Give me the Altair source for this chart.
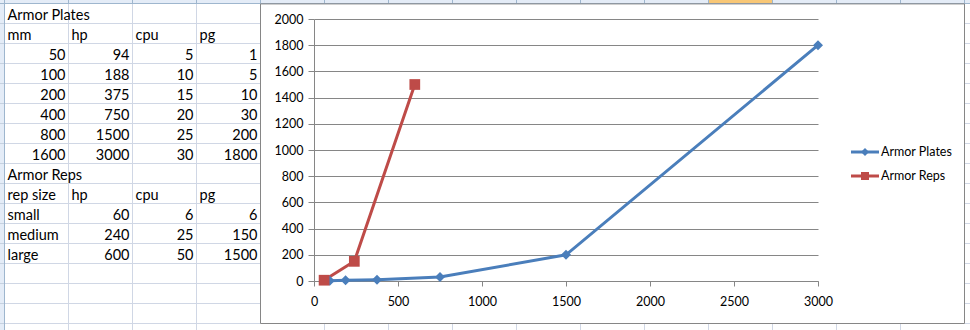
import altair as alt
import pandas as pd

# ---------------- data ----------------
plate_mm = [50, 100, 200, 400, 800, 1600]
plate_hp = [94, 188, 375, 750, 1500, 3000]
plate_cpu = [5, 10, 15, 20, 25, 30]
plate_pg = [1, 5, 10, 30, 200, 1800]

rep_size = ["small", "medium", "large"]
rep_hp = [60, 240, 600]
rep_cpu = [6, 25, 50]
rep_pg = [6, 150, 1500]

series_names = ["Armor Plates", "Armor Reps"]
plate_header = ["mm", "hp", "cpu", "pg"]
rep_header = ["rep size", "hp", "cpu", "pg"]
x_ticks = [0, 500, 1000, 1500, 2000, 2500, 3000]
y_ticks = [0, 200, 400, 600, 800, 1000, 1200, 1400, 1600, 1800, 2000]

# ---------------- layout / style ----------------
PL, PT, PR, PB = 314, 19, 152, 49
W, H = 504, 262
FONT = "Lato"
AXIS_GRAY = "#868686"
GRID = "#d0d7e5"
HDR_FILL = "#e4ecf7"
HDR_LINE = "#9eb6ce"
SEL_FILL = "#f8c776"
BLUE, RED = "#4a7ebb", "#be4b48"

# ---------------- chart data ----------------
rows = []
for h, p in zip(plate_hp, plate_pg):
    rows.append({"series": series_names[0], "hp": h, "pg": p})
for h, p in zip(rep_hp, rep_pg):
    rows.append({"series": series_names[1], "hp": h, "pg": p})
chart_df = pd.DataFrame(rows)

# ---------------- table cells ----------------
cells_left, cells_right = [], []
cells_left.append({"r": 0, "c": 0, "t": "Armor Plates"})
for c, t in enumerate(plate_header):
    cells_left.append({"r": 1, "c": c, "t": t})
for i, vals in enumerate(zip(plate_mm, plate_hp, plate_cpu, plate_pg)):
    for c, v in enumerate(vals):
        cells_right.append({"r": 2 + i, "c": c + 1, "t": str(v)})
cells_left.append({"r": 8, "c": 0, "t": "Armor Reps"})
for c, t in enumerate(rep_header):
    cells_left.append({"r": 9, "c": c, "t": t})
for i, (s, h, cp, p) in enumerate(zip(rep_size, rep_hp, rep_cpu, rep_pg)):
    cells_left.append({"r": 10 + i, "c": 0, "t": s})
    for c, v in enumerate((h, cp, p)):
        cells_right.append({"r": 10 + i, "c": c + 2, "t": str(v)})
left_df = pd.DataFrame(cells_left)
right_df = pd.DataFrame(cells_right)
left_df["rb"] = left_df["r"] + 1
right_df["rb"] = right_df["r"] + 1

# table (sheet) scales: column index / row index -> pixels
TXS = alt.Scale(domain=[0, 15], range=[4.5 - PL, 964.5 - PL], nice=False, zero=False)
TYS = alt.Scale(domain=[0, 16], range=[3.5 - PT, 323.5 - PT], nice=False, zero=False)


def TX(f):
    return alt.X(f, type="quantitative", scale=TXS, axis=None)


def TY(f):
    return alt.Y(f, type="quantitative", scale=TYS, axis=None)


txt_left = alt.Chart(left_df).mark_text(
    align="left", baseline="alphabetic", dx=3, dy=-4, font=FONT, fontSize=14.5, color="black"
).encode(x=TX("c"), y=TY("rb"), text="t:N")
txt_right = alt.Chart(right_df).mark_text(
    align="right", baseline="alphabetic", dx=-3, dy=-4, font=FONT, fontSize=14.5, color="black"
).encode(x=TX("c"), y=TY("rb"), text="t:N")

rows_idx = list(range(17))
hgrid_left = pd.DataFrame({"r": rows_idx, "c1": 0, "c2": 4})
hgrid_right = pd.DataFrame({"r": rows_idx, "c1": 15, "c2": 15.3})
hgrid_hdr = pd.DataFrame({"r": rows_idx, "c1": -0.1, "c2": 0})
vgrid_left = pd.DataFrame({"c": [1, 2, 3], "r1": -0.2, "r2": 16.5})
vgrid_top = pd.DataFrame({"c": list(range(1, 16)), "r1": -0.2, "r2": 0})
vgrid_bottom = pd.DataFrame({"c": list(range(5, 15)), "r1": 16, "r2": 16.5})
hdr_top = pd.DataFrame({"c1": [-0.1], "c2": [15.3], "r1": [-0.2], "r2": [0]})
hdr_sel = pd.DataFrame({"c1": [11], "c2": [12], "r1": [-0.2], "r2": [0]})
hdr_left = pd.DataFrame({"c1": [-0.1], "c2": [0], "r1": [0], "r2": [16.5]})
box = pd.DataFrame({"c1": [4], "c2": [15], "r1": [0.02], "r2": [16]})
hdr_line_top = pd.DataFrame({"r": [0], "c1": [-0.1], "c2": [15.3]})
hdr_line_left = pd.DataFrame({"c": [0], "r1": [-0.2], "r2": [16.5]})


def hrule(df, color):
    return alt.Chart(df).mark_rule(color=color, strokeWidth=1).encode(
        x=TX("c1"), x2="c2", y=TY("r"))


def vrule(df, color):
    return alt.Chart(df).mark_rule(color=color, strokeWidth=1).encode(
        x=TX("c"), y=TY("r1"), y2="r2")


def rect(df, fill, stroke=None):
    kw = dict(fill=fill)
    if stroke:
        kw["stroke"] = stroke
        kw["strokeWidth"] = 1
    return alt.Chart(df).mark_rect(**kw).encode(
        x=TX("c1"), x2="c2", y=TY("r1"), y2="r2")


decor = alt.layer(
    rect(hdr_top, HDR_FILL),
    rect(hdr_sel, SEL_FILL),
    rect(hdr_left, HDR_FILL),
    hrule(hgrid_left, GRID),
    hrule(hgrid_right, GRID),
    hrule(hgrid_hdr, "#c5d1e0"),
    vrule(vgrid_left, GRID),
    vrule(vgrid_top, HDR_LINE),
    vrule(vgrid_bottom, GRID),
    hrule(hdr_line_top, HDR_LINE),
    vrule(hdr_line_left, HDR_LINE),
    rect(box, "transparent", AXIS_GRAY),
    txt_left,
    txt_right,
)

# ---------------- the XY chart ----------------
color_scale = alt.Scale(domain=series_names, range=[BLUE, RED])
shape_scale = alt.Scale(domain=series_names, range=["diamond", "square"])
size_scale = alt.Scale(domain=series_names, range=[100, 115])

x_axis = alt.Axis(
    orient="bottom", values=x_ticks, tickCount=7, grid=False, title=None, format="d",
    domainColor=AXIS_GRAY, tickColor=AXIS_GRAY, tickSize=5, labelPadding=9,
    labelFont=FONT, labelFontSize=12.5, labelColor="black", labelFlush=False,
    labelOverlap=False,
)
y_axis = alt.Axis(
    orient="left", values=y_ticks, tickCount=11, grid=True, gridColor=AXIS_GRAY,
    title=None, format="d",
    domainColor=AXIS_GRAY, tickColor=AXIS_GRAY, tickSize=6, labelPadding=5,
    labelFont=FONT, labelFontSize=12.5, labelColor="black", labelOverlap=False,
    labelFlush=False,
)
xenc = alt.X("hp:Q", scale=alt.Scale(domain=[0, 3000], nice=False, zero=False), axis=x_axis)
yenc = alt.Y("pg:Q", scale=alt.Scale(domain=[0, 2000], nice=False, zero=False), axis=y_axis)
color_enc = alt.Color("series:N", scale=color_scale, legend=None)
shape_enc = alt.Shape("series:N", scale=shape_scale, legend=None)

base = alt.Chart(chart_df)
lines = base.mark_line(strokeWidth=3).encode(x=xenc, y=yenc, color=color_enc)
points = base.mark_point(filled=True, opacity=1).encode(
    x=xenc, y=yenc, color=color_enc, shape=shape_enc,
    size=alt.Size("series:N", scale=size_scale, legend=None),
)
xy = alt.layer(lines, points)

# ---------------- legend ----------------
leg_df = pd.DataFrame({"series": series_names, "i": [0, 1]})
LY = alt.Y("i:Q", scale=alt.Scale(domain=[0, 1], range=[152 - PT, 176 - PT], nice=False, zero=False), axis=None)
leg_base = alt.Chart(leg_df)
leg_line = leg_base.mark_rule(strokeWidth=3).encode(
    x=alt.value(851 - PL), x2=alt.value(879 - PL), y=LY, color=color_enc)
leg_pt = leg_base.mark_point(filled=True, opacity=1, size=64).encode(
    x=alt.value(865 - PL), y=LY, color=color_enc, shape=shape_enc)
leg_txt = leg_base.mark_text(
    align="left", baseline="middle", font=FONT, fontSize=12.5, color="black"
).encode(x=alt.value(881 - PL), y=LY, text="series:N")
legend = alt.layer(leg_line, leg_pt, leg_txt)

chart = (
    alt.layer(xy, decor, legend)
    .resolve_scale(x="independent", y="independent")
    .properties(
        width=W, height=H,
        autosize=alt.AutoSizeParams(type="none"),
        padding={"left": PL, "top": PT, "right": PR, "bottom": PB},
        background="white",
    )
    .configure_view(stroke=None)
)

chart.save("out.html", embed_options={"renderer": "svg", "actions": False})
